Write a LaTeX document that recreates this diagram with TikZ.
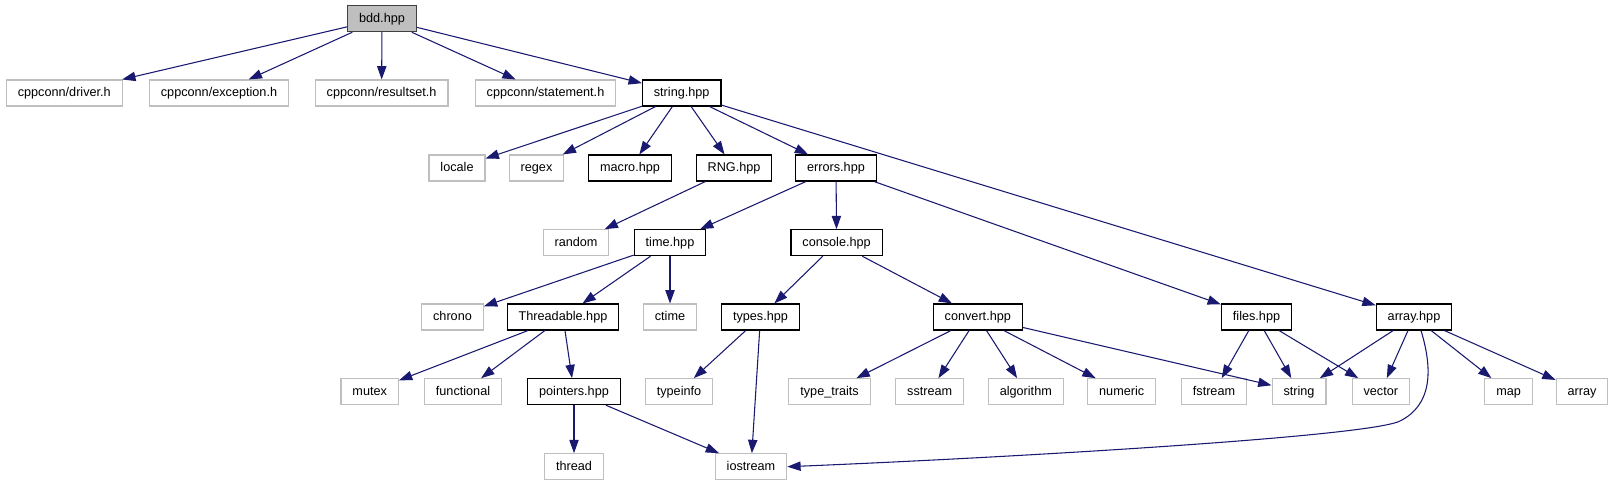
\documentclass[tikz,border=0pt]{standalone}
\usepackage{fontspec}
\setmainfont{Liberation Sans}
\usetikzlibrary{arrows.meta}
\definecolor{edgeblue}{HTML}{191970}
\definecolor{sysgray}{HTML}{BFBFBF}
\definecolor{rootfill}{HTML}{BFBFBF}
\definecolor{darkgray}{HTML}{404040}
\tikzset{
  filenode/.style={rectangle, inner xsep=8.6pt, inner ysep=0pt, minimum height=19.5pt,
    text height=7pt, text depth=2pt, font=\fontsize{9.5}{11}\selectfont, line width=0.8pt},
  hdrnode/.style={filenode, draw=black},
  sysnode/.style={filenode, draw=sysgray},
  rootnode/.style={filenode, draw=darkgray, fill=rootfill},
  inclarrow/.style={edgeblue, line width=0.8pt, -{Triangle[length=10pt,width=7pt]}}
}

\begin{document}
\begin{tikzpicture}[x=0.75pt, y=-0.75pt]
  \useasboundingbox (0,0) rectangle (1613,485);
  % row 0
  \node[rootnode] (bdd) at (382,18.7) {bdd.hpp};
  % row 1
  \node[sysnode] (driver) at (64.3,93) {cppconn/driver.h};
  \node[sysnode] (exception) at (219,93) {cppconn/exception.h};
  \node[sysnode] (resultset) at (381.6,93) {cppconn/resultset.h};
  \node[sysnode] (statement) at (545.5,93) {cppconn/statement.h};
  \node[hdrnode] (stringhpp) at (681.7,93) {string.hpp};
  % row 2
  \node[sysnode] (locale) at (457,168) {locale};
  \node[sysnode] (regex) at (536.5,168) {regex};
  \node[hdrnode] (macro) at (630,168) {macro.hpp};
  \node[hdrnode] (rng) at (734,168) {RNG.hpp};
  \node[hdrnode] (errors) at (836,168) {errors.hpp};
  % row 3
  \node[sysnode] (random) at (576,242.7) {random};
  \node[hdrnode] (timehpp) at (670,242.7) {time.hpp};
  \node[hdrnode] (console) at (836.6,242.7) {console.hpp};
  % row 4
  \node[sysnode] (chrono) at (452.5,317) {chrono};
  \node[hdrnode] (threadable) at (563,317) {Threadable.hpp};
  \node[sysnode] (ctime) at (670,317) {ctime};
  \node[hdrnode] (types) at (760.5,317) {types.hpp};
  \node[hdrnode] (convert) at (977.8,317) {convert.hpp};
  \node[hdrnode] (files) at (1256.5,317) {files.hpp};
  \node[hdrnode] (arrayhpp) at (1414,317) {array.hpp};
  % row 5
  \node[sysnode] (mutex) at (369.7,391.7) {mutex};
  \node[sysnode] (functional) at (463,391.7) {functional};
  \node[hdrnode] (pointers) at (574,391.7) {pointers.hpp};
  \node[sysnode] (typeinfo) at (679,391.7) {typeinfo};
  \node[sysnode] (typetraits) at (829.6,391.7) {type\_traits};
  \node[sysnode] (sstream) at (929.7,391.7) {sstream};
  \node[sysnode] (algorithm) at (1025.8,391.7) {algorithm};
  \node[sysnode] (numeric) at (1121.7,391.7) {numeric};
  \node[sysnode] (fstream) at (1214,391.7) {fstream};
  \node[sysnode] (stringh) at (1299,391.7) {string};
  \node[sysnode] (vector) at (1380.8,391.7) {vector};
  \node[sysnode] (map) at (1508.6,391.7) {map};
  \node[sysnode] (arrayh) at (1582,391.7) {array};
  % row 6
  \node[sysnode] (thread) at (574,466.7) {thread};
  \node[sysnode] (iostream) at (751,466.7) {iostream};

  % include edges
  \foreach \a/\b in {bdd/driver, bdd/exception, bdd/resultset, bdd/statement, bdd/stringhpp,
      stringhpp/locale, stringhpp/regex, stringhpp/macro, stringhpp/rng, stringhpp/errors,
      stringhpp/arrayhpp, rng/random, errors/timehpp, errors/console, errors/files,
      timehpp/chrono, timehpp/threadable, timehpp/ctime, console/types, console/convert,
      threadable/mutex, threadable/functional, threadable/pointers, types/typeinfo,
      types/iostream, convert/typetraits, convert/sstream, convert/algorithm,
      convert/numeric, convert/stringh, files/fstream, files/stringh, files/vector,
      arrayhpp/stringh, arrayhpp/vector, arrayhpp/map, arrayhpp/arrayh,
      pointers/thread, pointers/iostream}
    \draw[inclarrow] (\a) -- (\b);
  \draw[inclarrow] ([xshift=5.25pt]arrayhpp.south) .. controls (1433,370) and (1432,405) .. (1400,421)
    .. controls (1368,437) and (1000,458) .. (iostream.east);
\end{tikzpicture}
\end{document}
